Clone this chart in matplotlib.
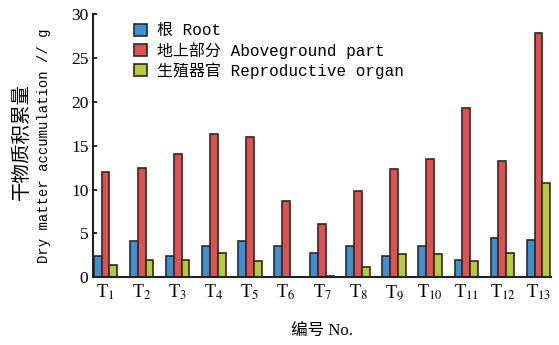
import numpy as np
import matplotlib.pyplot as plt

plt.rcParams['font.family'] = ['Liberation Serif', 'Noto Sans CJK SC']
plt.rcParams['mathtext.fontset'] = 'stix'

labels = ['T$_{%d}$' % i for i in range(1, 14)]
root = [2.4, 4.1, 2.4, 3.6, 4.1, 3.6, 2.8, 3.6, 2.4, 3.6, 2.0, 4.45, 4.25]
above = [12.0, 12.5, 14.1, 16.3, 16.0, 8.7, 6.1, 9.8, 12.3, 13.5, 19.3, 13.3, 27.9]
repro = [1.4, 2.0, 2.0, 2.8, 1.8, 0.0, 0.15, 1.15, 2.6, 2.6, 1.8, 2.8, 10.7]

names = ['根 Root', '地上部分 Aboveground part', '生殖器官 Reproductive organ']
colors = ['#3f8fd2', '#e0504f', '#b8c83c']
mono = ['Liberation Mono', 'Noto Sans CJK SC']

fig, ax = plt.subplots(figsize=(5.59, 3.45), dpi=100)
fig.subplots_adjust(left=0.167, right=0.985, top=0.958, bottom=0.197)

x = np.arange(len(labels))
w = 0.218
for k, (vals, name, c) in enumerate(zip([root, above, repro], names, colors)):
    ax.bar(x + (k - 1) * w, vals, w, color=c, edgecolor='#2a2a2a',
           linewidth=1.2, label=name)

ax.set_xlim(-1.5 * w - 0.01, 12 + 1.5 * w + 0.01)
ax.set_ylim(0, 30)
ax.set_yticks(range(0, 31, 5))
ax.set_xticks(x)
ax.set_xticklabels(labels, fontsize=13)
ax.tick_params(axis='y', direction='in', length=3, labelsize=12.5, width=1.2)
ax.tick_params(axis='x', length=0, pad=4)
ax.spines['top'].set_visible(False)
ax.spines['right'].set_visible(False)
for s in ['left', 'bottom']:
    ax.spines[s].set_linewidth(1.5)
    ax.spines[s].set_color('#222222')

# two-line y label: Chinese then English
fig.text(0.038, 0.59, '干物质积累量', rotation=90, ha='center', va='center',
         fontsize=14, family=['Noto Sans CJK SC'])
fig.text(0.079, 0.578, 'Dry matter accumulation // g', rotation=90,
         ha='center', va='center', fontsize=10, family=mono)
ax.set_xlabel('编号 No.', fontsize=12, labelpad=16)

ax.legend(loc='upper left', bbox_to_anchor=(0.07, 1.0), frameon=False,
          prop={'family': mono, 'size': 11.5}, handlelength=0.8,
          handleheight=0.8, handletextpad=0.6, labelspacing=0.22,
          borderaxespad=0.15)

fig.savefig('out.png', dpi=100)
